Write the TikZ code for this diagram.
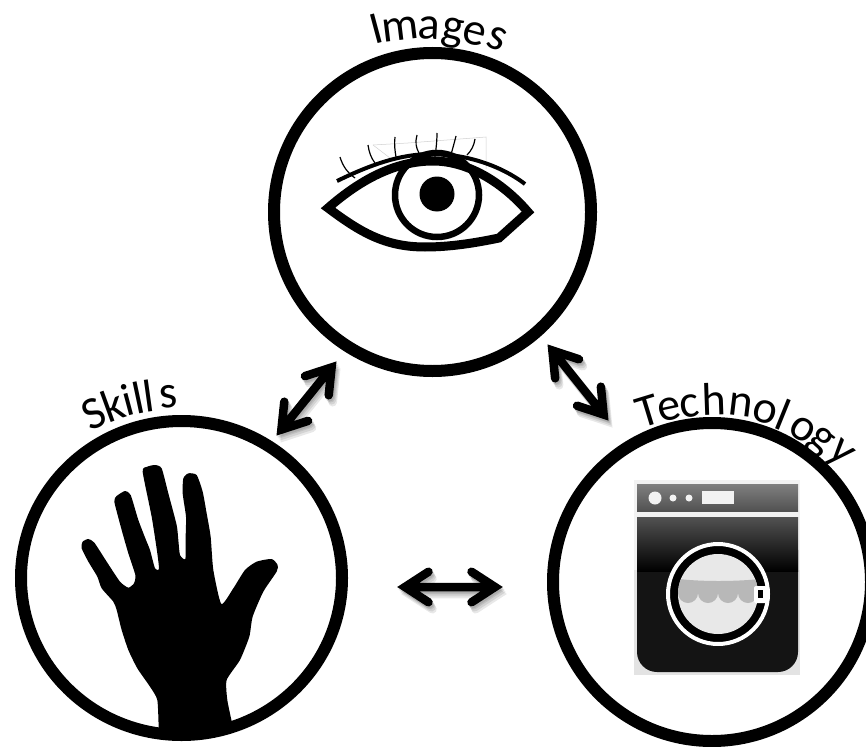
\documentclass[tikz,border=0pt]{standalone}
\usepackage{fontspec}
\setmainfont{Carlito}
\usetikzlibrary{calc,shapes.geometric}
\definecolor{wmdark}{HTML}{141414}
% a two-way arrow: pointed tips, round barb ends
\newcommand{\thickarrow}[3][]{%
 \path ($(#2)!7pt!(#3)$) coordinate (ta) ($(#3)!7pt!(#2)$) coordinate (tb);
 \draw[twoway,#1] ($(ta)!28pt!33:(tb)$) -- (ta) -- ($(ta)!28pt!-33:(tb)$)
   (ta) -- (tb)
   ($(tb)!28pt!33:(ta)$) -- (tb) -- ($(tb)!28pt!-33:(ta)$);}
\newcommand{\shadowedarrow}[2]{%
 \foreach \sx/\sy in {1/2,2/3,3/5,4/7}{
  \thickarrow[opacity=.09,transform canvas={shift={(\sx pt,-\sy pt)}}]{#1}{#2}}
 \thickarrow{#1}{#2}}
\tikzset{
 ring/.style={ellipse,draw=black,fill=white,inner sep=0pt,outer sep=0pt,line width=12pt},
 twoway/.style={line width=8.5pt,draw=black,line cap=round,line join=miter},
 letter/.style={inner sep=0pt,anchor=base,text=black,font=\fontsize{46}{46}\selectfont},
 lash/.style={line width=1.2pt,black},
 faint/.style={line width=.5pt,black!18},
}
\begin{document}
\begin{tikzpicture}[x=1pt,y=-1pt]
\useasboundingbox (0,0) rectangle (866,746);
\fill[white] (0,0) rectangle (866,746);
\node[ring,minimum width=317pt,minimum height=318pt] (img) at (432.5,212) {};
\node[ring,minimum width=321pt,minimum height=314pt] (skl) at (181.5,578) {};
\node[ring,minimum width=318pt,minimum height=318pt] (tec) at (712,582) {};
% labels
\foreach \t/\a/\x/\y [count=\i] in {I/15/380/43,m/7/402/40,a/-3/428/39,g/-10/451/40,e/-15/472/44,s/-22/493/49}{
 \node[letter,rotate=\a,name=im\i] at (\x,\y) {\t};}
\foreach \t/\a/\x/\y [count=\i] in {S/25/100/427,k/20/118/420,i/15/132/415,l/12/142/413,l/8/151/412,s/5/169/408}{
 \node[letter,rotate=\a,name=sk\i] at (\x,\y) {\t};}
\foreach \t/\a/\x/\y [count=\i] in {T/17/652/425,e/12/672/420,c/8/691/417,h/2/715/415,n/-7/739/416,o/-15/762/423,l/-22/777/429,o/-32/797/439,g/-38/815/448,y/-42/834/460}{
 \node[letter,rotate=\a,name=te\i] at (\x,\y) {\t};}
% arrows
\coordinate (a1) at (277,435); \coordinate (a2) at (336,362);
\coordinate (b1) at (548,345); \coordinate (b2) at (608,420);
\coordinate (c1) at (398,587); \coordinate (c2) at (502,587);
\shadowedarrow{a1}{a2}
\shadowedarrow{b1}{b2}
\shadowedarrow{c1}{c2}
% eye
\draw[faint] (373,145) -- (408,143) -- (486,137) -- (486,169);
\draw[faint] (373,145) -- (390,158);
\draw[line width=9pt,line join=miter,fill=white] (328,208) .. controls (360,180) and (395,161) .. (433,161)
  .. controls (470,161) and (505,185) .. (528,212) -- (499,238)
  .. controls (475,243) and (450,247) .. (425,247) .. controls (385,247) and (360,232) .. cycle;
\draw[line width=6.5pt] (437,195) circle[radius=42pt];
\fill (437,194) circle[radius=17.5pt];
\draw[line width=4pt] (337,181) .. controls (370,165) and (400,154) .. (432,154) .. controls (465,154) and (500,165) .. (525,184);
\draw[lash] (340,157) .. controls (343,167) and (348,173) .. (355,178);
\draw[lash] (368,145) .. controls (369,152) and (371,158) .. (375,163);
\draw[lash] (395,137) .. controls (394,144) and (395,151) .. (396,157);
\draw[lash] (417,135) .. controls (415,142) and (416,148) .. (419,153);
\draw[lash] (437,133) .. controls (437,141) and (436,149) .. (435,157);
\draw[lash] (456,136) .. controls (454,144) and (452,151) .. (450,158);
\draw[lash] (475,139) .. controls (474,146) and (471,151) .. (467,155);
% washing machine
\fill[black!5] (634,480) rectangle (800,570);
\fill[black!11] (634,570) rectangle (800,675);
\shade[top color=black!50,bottom color=black!68] (637,484) rectangle (798,511);
\fill[black!5] (655,498) circle[radius=6.5pt] (673,498) circle[radius=3.5pt] (689,498) circle[radius=3.5pt];
\fill[black!5] (702,491) rectangle (734,504);
\fill[wmdark,rounded corners=20pt] (637,530) -- (637,672) -- (798,672) -- (798,530) -- cycle;
\shade[top color=black!68,bottom color=black] (637,517) rectangle (798,571);
\fill[black] (718,594) circle[radius=52pt];
\draw[white,line width=4pt] (718,594) circle[radius=50pt];
\fill[black!9] (718,594) circle[radius=40pt];
\begin{scope}
 \clip (718,594) circle[radius=40pt];
 \fill[black!28] (678,593) arc[start angle=180,end angle=360,radius=10pt]
   arc[start angle=180,end angle=360,radius=10pt]
   arc[start angle=180,end angle=360,radius=10pt]
   arc[start angle=180,end angle=360,radius=10pt] -- cycle;
 \fill[black!28] (670,578) .. controls (700,582) and (736,582) .. (770,578) -- (770,593.5) -- (670,593.5) -- cycle;
\end{scope}
\fill[white,rounded corners=2pt] (754,586) rectangle (767,603);
\fill[black] (758,590) rectangle (763,598);
% hand
\begin{scope}[shift={(60,450)},x=.3333pt,y=-.3333pt]
\fill[black] plot[smooth,tension=.35] coordinates {(296,835) (292,750) (270,710) (232,655) (205,600) (185,540) (170,480) (160,455) (125,415) (112,380) (85,335) (65,295) (68,275) (85,267) (103,278) (140,335) (180,395) (205,413) (222,400) (226,375) (205,310) (185,240) (163,155) (170,138) (195,123) (212,135) (235,210) (258,270) (270,300) (285,355) (297,358) (292,310) (275,200) (248,65) (262,50) (285,45) (305,55) (325,130) (350,225) (355,270) (360,315) (376,327) (377,260) (378,200) (368,130) (370,85) (385,70) (410,75) (428,125) (440,190) (452,260) (460,360) (484,462) (520,415) (555,360) (590,335) (635,327) (653,345) (650,365) (610,425) (578,500) (568,560) (540,630) (500,690) (502,750) (516,818)} -- (519,835) -- (400,862) -- (296,850) -- cycle;
\end{scope}
\end{tikzpicture}
\end{document}
